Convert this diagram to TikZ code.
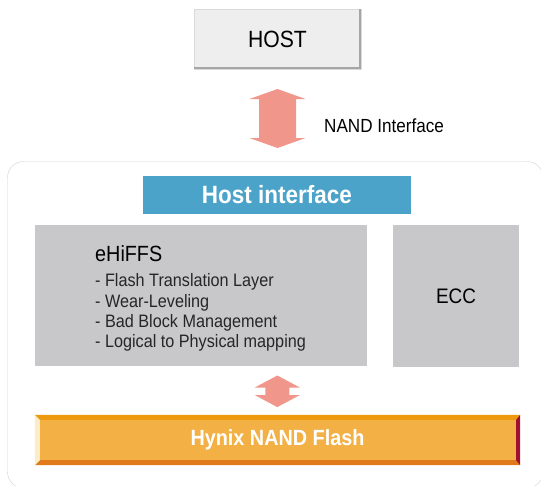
\documentclass[tikz,border=0pt]{standalone}
\usepackage{fontspec}
\setmainfont{Liberation Sans}[FakeStretch=0.9]
\usepackage{tikz}
\usetikzlibrary{calc}
\definecolor{hostgray}{RGB}{238,238,238}
\definecolor{boxgray}{RGB}{200,200,202}
\definecolor{hifblue}{RGB}{75,163,201}
\definecolor{arrowpink}{RGB}{240,150,138}
\definecolor{flashmain}{RGB}{242,176,69}
\definecolor{flashtop}{RGB}{238,154,16}
\definecolor{flashbot}{RGB}{224,122,26}
\definecolor{flashleft}{RGB}{252,236,200}
\definecolor{flashright}{RGB}{160,16,48}
% fat double arrow: centre, half length, head length, half shaft, half head
\newcommand{\dblarrow}[5]{%
  \fill[fatarrow] ($(#1)+(0,-#2)$) -- ($(#1)+(#5,-#2+#3)$) -- ($(#1)+(#4,-#2+#3)$)
    -- ($(#1)+(#4,#2-#3)$) -- ($(#1)+(#5,#2-#3)$) -- ($(#1)+(0,#2)$)
    -- ($(#1)+(-#5,#2-#3)$) -- ($(#1)+(-#4,#2-#3)$) -- ($(#1)+(-#4,-#2+#3)$)
    -- ($(#1)+(-#5,-#2+#3)$) -- cycle;}

\begin{document}
\begin{tikzpicture}[x=1pt, y=-1pt,
  box/.style={inner sep=0pt, align=center},
  graybox/.style={box, fill=boxgray},
  fatarrow/.style={fill=arrowpink},
  label/.style={inner sep=0pt, font=\fontsize{19}{22}\selectfont},
  item/.style={inner sep=0pt, text=black!85, font=\fontsize{18}{20}\selectfont}
]
\useasboundingbox (0,0) rectangle (541,485);

% --- Top: host ---
\node[box, fill=hostgray, draw=gray!30, minimum width=167pt, minimum height=60pt,
      font=\fontsize{23.5}{27}\selectfont] (host) at (277.5,39) {HOST};
\draw[gray!70, line width=2pt] ([yshift=1pt]host.south west)
  -- ([shift={(-1pt,1pt)}]host.south east) -- ([xshift=-1pt]host.north east);

\coordinate (nif) at (277.5,118.5);
\dblarrow{nif}{29.5}{10}{18.5}{28}
\node[label, anchor=base west] (niflabel) at (324,132) {NAND Interface};

% --- Controller ---
\draw[gray!35, rounded corners=16pt] (7.5,161.5) rectangle (543,488);

\node[box, fill=hifblue, text=white, minimum width=268pt, minimum height=38pt,
      font=\bfseries\fontsize{25}{28}\selectfont] (hif) at (277,195) {Host interface};

\node[graybox, minimum width=332pt, minimum height=141pt] (ftl) at (201,295.5) {};
\node[inner sep=0pt, anchor=base west, font=\fontsize{22}{26}\selectfont] (ehiffs) at (95,261) {eHiFFS};
\foreach \txt [count=\i] in {Flash Translation Layer, Wear-Leveling, Bad Block Management,
                             Logical to Physical mapping} {
  \node[item, anchor=base west] (item\i) at (95,{266.6+20.2*\i}) {- \txt};
}

\node[graybox, minimum width=126pt, minimum height=142pt,
      font=\fontsize{21}{25}\selectfont] (ecc) at (456,296) {ECC};

\coordinate (fif) at (277.3,391.3);
\dblarrow{fif}{15.8}{12}{12}{22.5}

% --- Bottom: flash ---
\node[box, fill=flashmain, text=white, minimum width=485pt, minimum height=50pt,
      font=\bfseries\fontsize{22}{26}\selectfont] (flash) at (277.5,440) {Hynix NAND Flash};
\fill[flashtop] (flash.north west) -- (flash.north east)
  -- ([shift={(-4,5)}]flash.north east) -- ([shift={(5,5)}]flash.north west) -- cycle;
\fill[flashbot] (flash.south west) -- ([shift={(5,-5)}]flash.south west)
  -- ([shift={(-4,-5)}]flash.south east) -- (flash.south east) -- cycle;
\fill[flashleft] (flash.north west) -- ([shift={(5,5)}]flash.north west)
  -- ([shift={(5,-5)}]flash.south west) -- (flash.south west) -- cycle;
\fill[flashright] (flash.north east) -- ([shift={(-4,5)}]flash.north east)
  -- ([shift={(-4,-5)}]flash.south east) -- (flash.south east) -- cycle;

\end{tikzpicture}
\end{document}
